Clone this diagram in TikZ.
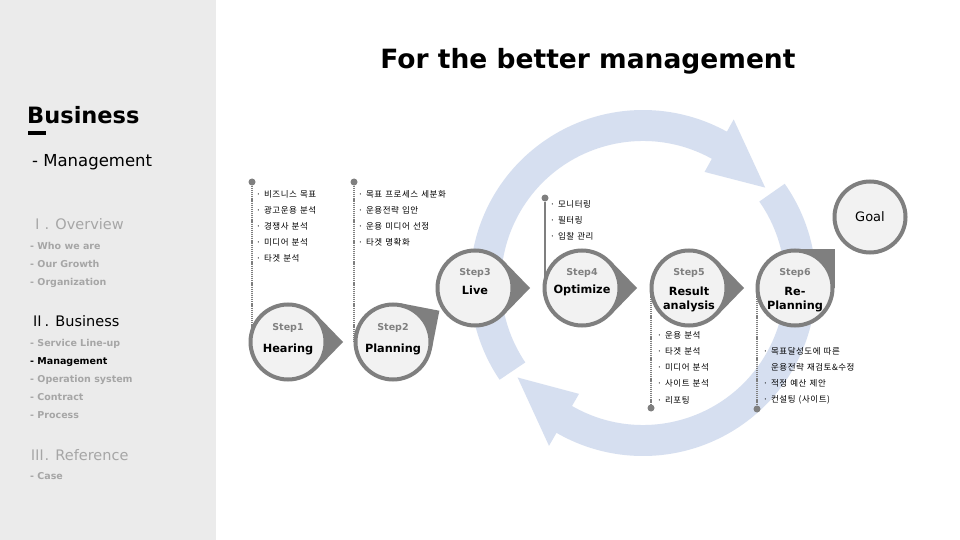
\documentclass[tikz,border=0pt]{standalone}
\usepackage{fontspec}
\setmainfont{DejaVu Sans}
\newfontfamily\kr[LetterSpace=6,WordSpace=1.3]{Noto Sans CJK KR}
\newfontfamily\krplain{Noto Sans CJK KR}
\usetikzlibrary{calc}
\definecolor{sidebg}{RGB}{235,235,235}
\definecolor{ringblue}{RGB}{214,223,240}
\definecolor{bordergray}{RGB}{127,127,127}
\definecolor{circfill}{RGB}{242,242,242}
\definecolor{menugray}{RGB}{166,166,166}
\definecolor{steptxt}{RGB}{128,128,128}
\begin{document}
\begin{tikzpicture}[x=1pt,y=-1pt,
  stepcirc/.style={circle,draw=bordergray,line width=4pt,fill=circfill,minimum size=75pt,inner sep=0pt},
  goalcirc/.style={stepcirc,minimum size=71pt},
  ptr/.style={fill=bordergray},
  steplbl/.style={font=\bfseries\fontsize{9.5}{11}\selectfont,text=steptxt,inner sep=0pt},
  stepname/.style={font=\bfseries\fontsize{11.3}{13}\selectfont,text=black,inner sep=0pt},
  item/.style={font=\kr\fontsize{8.5}{10}\selectfont,anchor=west,inner sep=0pt},
  dotnode/.style={circle,fill=bordergray,minimum size=7pt,inner sep=0pt},
  dotline/.style={draw=bordergray,line width=2pt,dash pattern=on 1.2pt off 0.9pt},
  solidline/.style={draw=bordergray,line width=2pt},
  menu/.style={anchor=base west,inner sep=0pt,text=menugray,font=\bfseries\fontsize{9.5}{12}\selectfont},
  menuact/.style={anchor=base west,inner sep=0pt,text=black,font=\bfseries\fontsize{9.5}{12}\selectfont},
  section/.style={anchor=base west,inner sep=0pt,font=\fontsize{14.5}{16}\selectfont},
]
\useasboundingbox (0,0) rectangle (960,540);
\fill[white] (0,0) rectangle (960,540);
\fill[sidebg] (0,0) rectangle (216,540);

% ---- ring arrows ----
\coordinate (rc) at (643,283);
\fill[ringblue] ($(rc)+(-214:173)$) arc[start angle=-214,end angle=-61,radius=173]
  -- ($(rc)+(-61:187)$) -- ($(rc)+(-38:155)$) -- ($(rc)+(-61:127)$)
  -- ($(rc)+(-61:142)$) arc[start angle=-61,end angle=-214,radius=142] -- cycle;
\fill[ringblue] ($(rc)+(-35:173)$) arc[start angle=-35,end angle=120,radius=173]
  -- ($(rc)+(120:188)$) -- ($(rc)+(143:157)$) -- ($(rc)+(120:128)$)
  -- ($(rc)+(120:142)$) arc[start angle=120,end angle=-35,radius=142] -- cycle;

% ---- title and sidebar ----
\node[anchor=base,inner sep=0pt,font=\bfseries\fontsize{26.5}{31}\selectfont] (title) at (588,69) {For the better management};
\node[anchor=base west,inner sep=0pt,font=\bfseries\fontsize{22.5}{26}\selectfont] (biz) at (27,124) {Business};
\fill[black] (28,131.5) rectangle (46,135.5);
\node[anchor=base west,inner sep=0pt,font=\fontsize{16.5}{19}\selectfont] (mgmt) at (32,167) {- Management};

\node[section,text=menugray] (sec1) at (30,229) {{\krplain Ⅰ}. Overview};
\node[menu] (m11) at (30,249) {- Who we are};
\node[menu] (m12) at (30,267) {- Our Growth};
\node[menu] (m13) at (30,285) {- Organization};
\node[section,text=black] (sec2) at (30,326) {{\krplain Ⅱ}. Business};
\node[menu] (m21) at (30,346) {- Service Line-up};
\node[menuact] (m22) at (30,364) {- Management};
\node[menu] (m23) at (30,382) {- Operation system};
\node[menu] (m24) at (30,400) {- Contract};
\node[menu] (m25) at (30,418) {- Process};
\node[section,text=menugray] (sec3) at (30,460) {{\krplain Ⅲ}. Reference};
\node[menu] (m31) at (30,479) {- Case};

% ---- centres ----
\coordinate (c1) at (288,342);
\coordinate (c2) at (393,342);
\coordinate (c3) at (475,288);
\coordinate (c4) at (582,288);
\coordinate (c5) at (689,288);
\coordinate (c6) at (795,288);
\coordinate (cg) at (870,217);

% ---- pointers ----
\coordinate (p1) at ($(c1)+(55,0)$);
\coordinate (p3) at ($(c3)+(55,0)$);
\coordinate (p4) at ($(c4)+(55,0)$);
\coordinate (p5) at ($(c5)+(55,0)$);
\fill[ptr] (p1) -- ($(c1)+(44:39.5)$) -- ($(c1)+(-44:39.5)$) -- cycle;
\fill[ptr] (p3) -- ($(c3)+(44:39.5)$) -- ($(c3)+(-44:39.5)$) -- cycle;
\fill[ptr] (p4) -- ($(c4)+(44:39.5)$) -- ($(c4)+(-44:39.5)$) -- cycle;
\fill[ptr] (p5) -- ($(c5)+(44:39.5)$) -- ($(c5)+(-44:39.5)$) -- cycle;
\fill[ptr] (c2) -- ($(c2)+(11:39.5)$) -- ($(c2)+(-34:55.9)$) -- ($(c2)+(-79:39.5)$) -- cycle;
\fill[ptr] (c6) -- ($(c6)+(39.5,0)$) -- ($(c6)+(39.5,-39.5)$) -- ($(c6)+(0,-39.5)$) -- cycle;

% ---- dots and lines ----
\node[dotnode] (d1) at (252,182) {};
\node[dotnode] (d2) at (354,182) {};
\node[dotnode] (d4) at (545,198) {};
\node[dotnode] (d5) at (651,408) {};
\node[dotnode] (d6) at (757,409) {};
\draw[dotline] (d1) -- (d1 |- c1);
\draw[dotline] (d2) -- (d2 |- c2);
\draw[solidline] (d4) -- (d4 |- c4);
\draw[dotline] (d5 |- c5) -- (d5);
\draw[dotline] (d6 |- c6) -- (d6);

% ---- circles ----
\node[stepcirc] (s1) at (c1) {};
\node[stepcirc] (s2) at (c2) {};
\node[stepcirc] (s3) at (c3) {};
\node[stepcirc] (s4) at (c4) {};
\node[stepcirc] (s5) at (c5) {};
\node[stepcirc] (s6) at (c6) {};
\node[goalcirc] (goal) at (cg) {};

% ---- circle texts ----
\node[steplbl] (l1) at ([yshift=14pt]s1.center) {Step1};
\node[stepname] (n1) at ([yshift=-7pt]s1.center) {Hearing};
\node[steplbl] (l2) at ([yshift=14pt]s2.center) {Step2};
\node[stepname] (n2) at ([yshift=-7pt]s2.center) {Planning};
\node[steplbl] (l3) at ([yshift=15pt]s3.center) {Step3};
\node[stepname] (n3) at ([yshift=-2pt]s3.center) {Live};
\node[steplbl] (l4) at ([yshift=15pt]s4.center) {Step4};
\node[stepname] (n4) at ([yshift=-2pt]s4.center) {Optimize};
\node[steplbl] (l5) at ([yshift=15pt]s5.center) {Step5};
\node[stepname] (n5a) at ([yshift=-3pt]s5.center) {Result};
\node[stepname] (n5b) at ([yshift=-18pt]s5.center) {analysis};
\node[steplbl] (l6) at ([yshift=15pt]s6.center) {Step6};
\node[stepname] (n6a) at ([yshift=-3pt]s6.center) {Re-};
\node[stepname] (n6b) at ([yshift=-18pt]s6.center) {Planning};
\node[inner sep=0pt,font=\fontsize{13}{15}\selectfont] (gl) at (goal.center) {Goal};

% ---- lists ----
\node[item] (a1) at (256,194) {· 비즈니스 목표};
\node[item] (a2) at (256,210) {· 광고운용 분석};
\node[item] (a3) at (256,226) {· 경쟁사 분석};
\node[item] (a4) at (256,242) {· 미디어 분석};
\node[item] (a5) at (256,258) {· 타겟 분석};

\node[item] (b1) at (358,194) {· 목표 프로세스 세분화};
\node[item] (b2) at (358,210) {· 운용전략 입안};
\node[item] (b3) at (358,226) {· 운용 미디어 선정};
\node[item] (b4) at (358,242) {· 타겟 명확화};

\node[item] (e1) at (550,204) {· 모니터링};
\node[item] (e2) at (550,220) {· 필터링};
\node[item] (e3) at (550,236) {· 입찰 관리};

\node[item] (f1) at (657,335) {· 운용 분석};
\node[item] (f2) at (657,351) {· 타겟 분석};
\node[item] (f3) at (657,367) {· 미디어 분석};
\node[item] (f4) at (657,383) {· 사이트 분석};
\node[item] (f5) at (657,400) {· 리포팅};

\node[item] (g1) at (763,351) {· 목표달성도에 따른};
\node[item] (g2) at (763,367) {\phantom{· }운용전략 재검토\&수정};
\node[item] (g3) at (763,383) {· 적정 예산 제안};
\node[item] (g4) at (763,400) {· 컨설팅 (사이트)};
\end{tikzpicture}
\end{document}
